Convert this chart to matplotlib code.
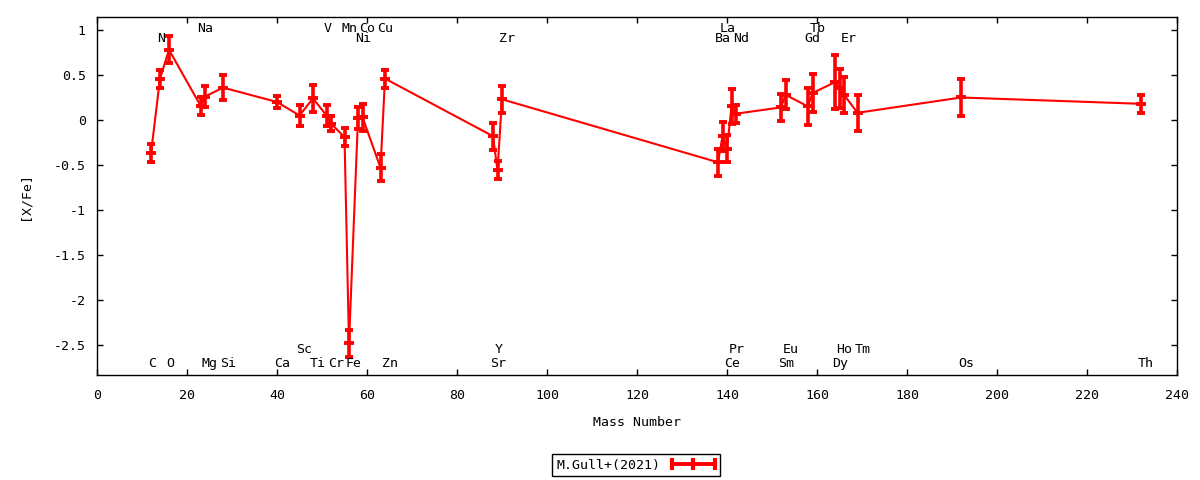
import matplotlib
matplotlib.use("Agg")
import matplotlib.pyplot as plt
from matplotlib.lines import Line2D
from matplotlib.legend_handler import HandlerLine2D

# ---- data ----
elements = ["C", "N", "O", "Na", "Mg", "Si", "Ca", "Sc", "Ti", "V", "Cr", "Mn", "Fe",
            "Ni", "Co", "Cu", "Zn", "Sr", "Y", "Zr", "Ba", "La", "Ce", "Pr", "Nd",
            "Sm", "Eu", "Gd", "Tb", "Dy", "Ho", "Er", "Tm", "Os", "Th"]
mass = [12, 14, 16, 23, 24, 28, 40, 45, 48, 51, 52, 55, 56,
        58, 59, 63, 64, 88, 89, 90, 138, 139, 140, 141, 142,
        152, 153, 158, 159, 164, 165, 166, 169, 192, 232]
xfe = [-0.37, 0.46, 0.78, 0.16, 0.26, 0.36, 0.20, 0.05, 0.24, 0.05, -0.04, -0.19, -2.48,
       0.02, 0.03, -0.53, 0.46, -0.18, -0.56, 0.23, -0.47, -0.18, -0.32, 0.15, 0.07,
       0.14, 0.28, 0.15, 0.30, 0.42, 0.35, 0.28, 0.08, 0.25, 0.18]
err = [0.10, 0.10, 0.15, 0.10, 0.12, 0.14, 0.065, 0.12, 0.15, 0.12, 0.08, 0.10, 0.15,
       0.12, 0.15, 0.15, 0.10, 0.15, 0.10, 0.15, 0.15, 0.16, 0.15, 0.19, 0.10,
       0.15, 0.16, 0.20, 0.21, 0.30, 0.22, 0.20, 0.20, 0.20, 0.10]

# label rows: element name -> row level (y in data units)
label_top1 = ["Na", "V", "Mn", "Co", "Cu", "La", "Tb"]
label_top2 = ["N", "Ni", "Zr", "Ba", "Nd", "Gd", "Er"]
label_bot1 = ["Sc", "Y", "Pr", "Eu", "Ho", "Tm"]
label_bot2 = ["C", "O", "Mg", "Si", "Ca", "Ti", "Cr", "Fe", "Zn", "Sr", "Ce", "Sm",
              "Dy", "Os", "Th"]
row_y = {"top1": 1.02, "top2": 0.91, "bot1": -2.555, "bot2": -2.70}

xticks = list(range(0, 241, 20))
yticks = [1, 0.5, 0, -0.5, -1, -1.5, -2, -2.5]
series_label = "M.Gull+(2021)"

# ---- style ----
plt.rcParams["font.family"] = ["DejaVu Sans Mono", "DejaVu Sans"]
plt.rcParams["font.size"] = 9.5
plt.rcParams["axes.unicode_minus"] = False

fig = plt.figure(figsize=(12, 4.8), dpi=100)
ax = fig.add_axes([97 / 1200, 1 - 375 / 480, 1080 / 1200, (375 - 17.3) / 480])

red = "#ff0000"
ax.errorbar(mass, xfe, yerr=err, color=red, lw=1.5, elinewidth=2.6,
            capsize=3.2, capthick=2.8, marker="_", ms=7, mew=2.8, zorder=3)

mass_of = dict(zip(elements, mass))
for rowname, names in [("top1", label_top1), ("top2", label_top2),
                       ("bot1", label_bot1), ("bot2", label_bot2)]:
    for n in names:
        ax.text(mass_of[n] - 0.7, row_y[rowname], n, ha="left", va="center",
                color="black")

ax.set_xlim(0, 240)
ax.set_ylim(-2.833, 1.141)
ax.set_xticks(xticks)
ax.set_xticklabels([str(t) for t in xticks])
ax.set_yticks(yticks)
ax.set_yticklabels(["%g" % t for t in yticks])
ax.tick_params(direction="in", length=4, width=1, top=True, right=True,
               labeltop=False, labelright=False)
ax.tick_params(axis="x", pad=10)
ax.tick_params(axis="y", pad=8)
for s in ax.spines.values():
    s.set_linewidth(1)
    s.set_color("black")

ax.set_xlabel("Mass Number", labelpad=10)
ax.set_ylabel("[X/Fe]", labelpad=16)

proxy = Line2D([], [], color=red, lw=2.8, marker="|", ms=8, mew=3)
leg = fig.legend([proxy], [series_label], loc="center",
                 bbox_to_anchor=(0.53, 1 - 465 / 480), markerfirst=False,
                 numpoints=3, handlelength=3.3, handletextpad=0.8,
                 borderpad=0.35, borderaxespad=0, fancybox=False, framealpha=1,
                 edgecolor="black",
                 handler_map={Line2D: HandlerLine2D(marker_pad=0)})
leg.get_frame().set_linewidth(1)

fig.savefig("out.png", dpi=100)
